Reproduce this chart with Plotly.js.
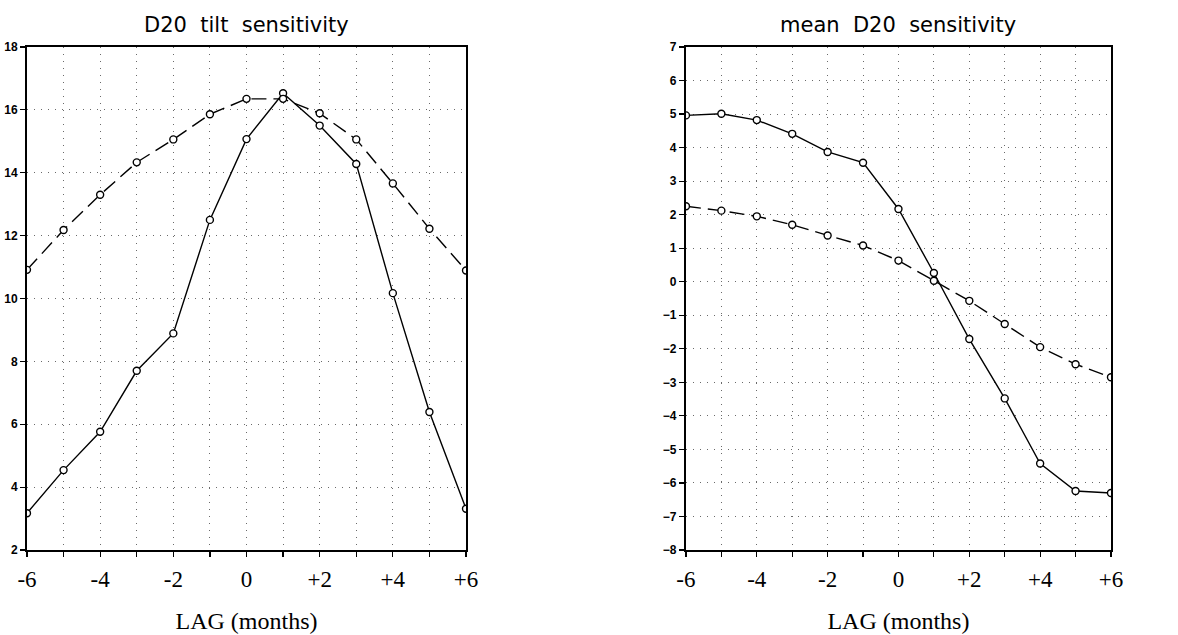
<!DOCTYPE html>
<html>
<head>
<meta charset="utf-8">
<script src="https://cdn.plot.ly/plotly-3.0.1.min.js"></script>
<style>html,body{margin:0;padding:0;background:#fff;}#chart{width:1178px;height:635px;}</style>
</head>
<body>
<div id="chart"></div>
<script>
// Data
const lag = [-6, -5, -4, -3, -2, -1, 0, 1, 2, 3, 4, 5, 6];
const lagTickText = ['-6', '', '-4', '', '-2', '', '0', '', '+2', '', '+4', '', '+6'];

const tiltSolid  = [3.17, 4.54, 5.76, 7.70, 8.89, 12.5, 15.07, 16.53, 15.5, 14.28, 10.17, 6.39, 3.31];
const tiltDashed = [10.91, 12.18, 13.30, 14.33, 15.06, 15.86, 16.35, 16.35, 15.89, 15.06, 13.66, 12.22, 10.89];

const meanSolid  = [4.96, 5.01, 4.82, 4.41, 3.87, 3.55, 2.17, 0.26, -1.71, -3.48, -5.42, -6.24, -6.30];
const meanDashed = [2.25, 2.12, 1.95, 1.70, 1.38, 1.08, 0.63, 0.03, -0.57, -1.26, -1.95, -2.46, -2.85];

const leftTicks  = [2, 4, 6, 8, 10, 12, 14, 16, 18];
const rightTicks = [-8, -7, -6, -5, -4, -3, -2, -1, 0, 1, 2, 3, 4, 5, 6, 7];

const titles = ['D20  tilt  sensitivity', 'mean  D20  sensitivity'];
const xTitle = 'LAG (months)';

function series(x, y, dashed, xa, ya) {
  return {
    x: x, y: y, xaxis: xa, yaxis: ya, type: 'scatter', mode: 'lines+markers',
    line: {color: '#000', width: 1.4, dash: dashed ? '15px,7px' : 'solid'},
    marker: {symbol: 'circle', size: 7, color: '#fff', line: {color: '#000', width: 1.4}},
    showlegend: false, hoverinfo: 'x+y'
  };
}

const data = [
  series(lag, tiltSolid, false, 'x', 'y'),
  series(lag, tiltDashed, true, 'x', 'y'),
  series(lag, meanSolid, false, 'x2', 'y2'),
  series(lag, meanDashed, true, 'x2', 'y2')
];

const gridStyle = {showgrid: true, gridcolor: '#6a6a6a', griddash: '1px,6px', gridwidth: 1};

function xAxis(domain, anchor) {
  return Object.assign({
    domain: domain, anchor: anchor, range: [-6, 6],
    tickmode: 'array', tickvals: lag, ticktext: lagTickText,
    ticks: 'outside', ticklen: 5, tickwidth: 1.2, tickcolor: '#000',
    ticklabelstandoff: 2,
    tickfont: {family: 'Liberation Serif, Times New Roman, serif', size: 23, color: '#000'},
    showline: true, linecolor: '#000', linewidth: 2, mirror: true,
    zeroline: false, automargin: false,
    title: {text: xTitle, font: {family: 'Liberation Serif, Times New Roman, serif', size: 24, color: '#000'}, standoff: 22}
  }, gridStyle);
}

function yAxis(domain, anchor, range, ticks) {
  return Object.assign({
    domain: domain, anchor: anchor, range: range,
    tickmode: 'array', tickvals: ticks,
    ticks: 'outside', ticklen: 5, tickwidth: 1.2, tickcolor: '#000',
    ticklabelstandoff: 0,
    tickfont: {family: 'Liberation Sans Narrow, Liberation Sans, Arial, sans-serif', size: 12, color: '#000', weight: 'bold'},
    showline: true, linecolor: '#000', linewidth: 2, mirror: true,
    zeroline: false, automargin: false
  }, gridStyle);
}

const yDom = [0.1339, 0.926];

const layout = {
  width: 1178, height: 635,
  margin: {l: 0, r: 0, t: 0, b: 0},
  paper_bgcolor: '#fff', plot_bgcolor: '#fff',
  xaxis: xAxis([0.0229, 0.3956], 'y'),
  yaxis: yAxis(yDom, 'x', [2, 18], leftTicks),
  xaxis2: xAxis([0.5823, 0.9431], 'y2'),
  yaxis2: yAxis(yDom, 'x2', [-8, 7], rightTicks),
  annotations: [
    {text: titles[0], xref: 'paper', yref: 'paper', x: (0.0229 + 0.3956) / 2, y: 0.96, xanchor: 'center', yanchor: 'middle', showarrow: false,
     font: {family: 'DejaVu Sans, Noto Sans, sans-serif', size: 21, color: '#000'}},
    {text: titles[1], xref: 'paper', yref: 'paper', x: (0.5823 + 0.9431) / 2, y: 0.96, xanchor: 'center', yanchor: 'middle', showarrow: false,
     font: {family: 'DejaVu Sans, Noto Sans, sans-serif', size: 21, color: '#000'}}
  ]
};

Plotly.newPlot('chart', data, layout, {displayModeBar: false, staticPlot: true});
</script>
</body>
</html>
